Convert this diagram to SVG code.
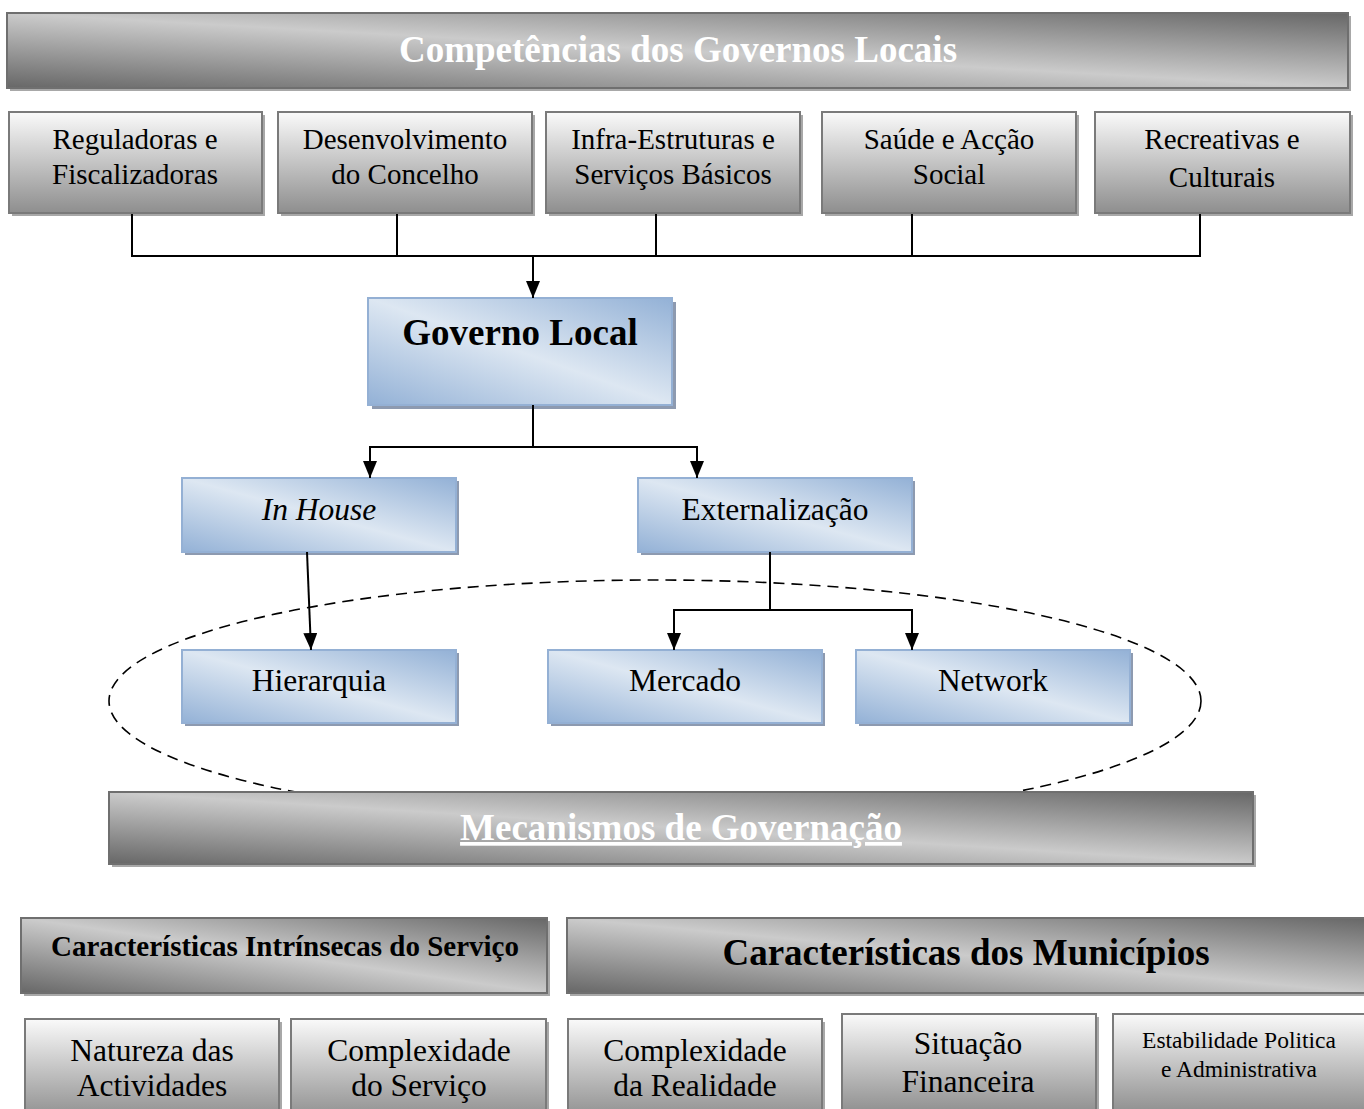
<svg xmlns="http://www.w3.org/2000/svg" width="1364" height="1109" viewBox="0 0 1364 1109">
<defs>
<linearGradient id="banner" x1="0" y1="1" x2="1" y2="0">
<stop offset="0" stop-color="#676767"/>
<stop offset="0.5" stop-color="#cbcbcb"/>
<stop offset="1" stop-color="#676767"/>
</linearGradient>
<linearGradient id="grayBox" x1="0" y1="0" x2="0" y2="1">
<stop offset="0" stop-color="#fafafa"/>
<stop offset="1" stop-color="#8e8e8e"/>
</linearGradient>
<linearGradient id="blueBox" x1="0" y1="1" x2="1" y2="0">
<stop offset="0" stop-color="#93b1d6"/>
<stop offset="0.5" stop-color="#dde7f2"/>
<stop offset="1" stop-color="#93b1d6"/>
</linearGradient>
<marker id="arrow" viewBox="0 0 17 14" refX="17" refY="7" markerWidth="17" markerHeight="14" markerUnits="userSpaceOnUse" orient="auto">
<path d="M0,0 L17,7 L0,14 Z" fill="#000"/>
</marker>
</defs>
<style>
.sh-g{fill:#a8a8a8}
.sh-b{fill:#8d9ab0}
.banner{fill:url(#banner);stroke:#6f6f6f;stroke-width:2}
.gbox{fill:url(#grayBox);stroke:#7a7a7a;stroke-width:2}
.bbox{fill:url(#blueBox);stroke:#94b0d4;stroke-width:2}
text{font-family:"Liberation Serif","Times New Roman",serif;text-anchor:middle;fill:#000}
.t29{font-size:29px}
.t32{font-size:31.5px}
.tb37{font-size:37px;font-weight:bold}
.white{fill:#fff}
.conn{stroke:#000;stroke-width:2;fill:none}
.ell{stroke:#000;stroke-width:1.6;fill:none;stroke-dasharray:11 7}
</style>

<ellipse class="ell" cx="655" cy="701" rx="546" ry="121"/>

<g id="title-competencias">
<rect class="sh-g" x="10" y="16" width="1341" height="75"/>
<rect class="banner" x="7" y="13" width="1341" height="75"/>
<text class="tb37 white" x="678" y="62">Competências dos Governos Locais</text>
</g>

<g id="reguladoras">
<rect class="sh-g" x="12" y="115" width="253" height="101"/>
<rect class="gbox" x="9" y="112" width="253" height="101"/>
<text class="t29" x="135" y="149">Reguladoras e</text>
<text class="t29" x="135" y="184">Fiscalizadoras</text>
</g>
<g id="desenvolvimento">
<rect class="sh-g" x="281" y="115" width="254" height="101"/>
<rect class="gbox" x="278" y="112" width="254" height="101"/>
<text class="t29" x="405" y="149">Desenvolvimento</text>
<text class="t29" x="405" y="184">do Concelho</text>
</g>
<g id="infraestruturas">
<rect class="sh-g" x="549" y="115" width="254" height="101"/>
<rect class="gbox" x="546" y="112" width="254" height="101"/>
<text class="t29" x="673" y="149">Infra-Estruturas e</text>
<text class="t29" x="673" y="184">Serviços Básicos</text>
</g>
<g id="saude">
<rect class="sh-g" x="825" y="115" width="254" height="101"/>
<rect class="gbox" x="822" y="112" width="254" height="101"/>
<text class="t29" x="949" y="149">Saúde e Acção</text>
<text class="t29" x="949" y="184">Social</text>
</g>
<g id="recreativas">
<rect class="sh-g" x="1098" y="115" width="255" height="101"/>
<rect class="gbox" x="1095" y="112" width="255" height="101"/>
<text class="t29" x="1222" y="149">Recreativas e</text>
<text class="t29" x="1222" y="187">Culturais</text>
</g>

<g id="governo-local">
<rect class="sh-b" x="372" y="302" width="304" height="107"/>
<rect class="bbox" x="368" y="298" width="304" height="107"/>
<text class="tb37" x="520" y="345">Governo Local</text>
</g>

<g id="in-house">
<rect class="sh-b" x="185" y="481" width="274" height="74"/>
<rect class="bbox" x="182" y="478" width="274" height="74"/>
<text class="t32" x="319" y="520" font-style="italic">In House</text>
</g>
<g id="externalizacao">
<rect class="sh-b" x="641" y="481" width="274" height="74"/>
<rect class="bbox" x="638" y="478" width="274" height="74"/>
<text class="t32" x="775" y="520">Externalização</text>
</g>

<g id="hierarquia">
<rect class="sh-b" x="185" y="653" width="274" height="73"/>
<rect class="bbox" x="182" y="650" width="274" height="73"/>
<text class="t32" x="319" y="691">Hierarquia</text>
</g>
<g id="mercado">
<rect class="sh-b" x="551" y="653" width="274" height="73"/>
<rect class="bbox" x="548" y="650" width="274" height="73"/>
<text class="t32" x="685" y="691">Mercado</text>
</g>
<g id="network">
<rect class="sh-b" x="859" y="653" width="274" height="73"/>
<rect class="bbox" x="856" y="650" width="274" height="73"/>
<text class="t32" x="993" y="691">Network</text>
</g>

<g id="mecanismos">
<rect class="sh-g" x="112" y="795" width="1144" height="72"/>
<rect class="banner" x="109" y="792" width="1144" height="72"/>
<text class="tb37 white" x="681" y="840" text-decoration="underline">Mecanismos de Governação</text>
</g>

<g id="caracteristicas-servico">
<rect class="sh-g" x="24" y="921" width="526" height="75"/>
<rect class="banner" x="21" y="918" width="526" height="75"/>
<text x="285" y="956" font-size="29" font-weight="bold">Características Intrínsecas do Serviço</text>
</g>
<g id="caracteristicas-municipios">
<rect class="sh-g" x="570" y="921" width="800" height="75"/>
<rect class="banner" x="567" y="918" width="800" height="75"/>
<text class="tb37" x="966" y="965">Características dos Municípios</text>
</g>

<g id="natureza">
<rect class="sh-g" x="28" y="1022" width="254" height="100"/>
<rect class="gbox" x="25" y="1019" width="254" height="100"/>
<text class="t32" x="152" y="1061">Natureza das</text>
<text class="t32" x="152" y="1096">Actividades</text>
</g>
<g id="complexidade-servico">
<rect class="sh-g" x="294" y="1022" width="255" height="100"/>
<rect class="gbox" x="291" y="1019" width="255" height="100"/>
<text class="t32" x="419" y="1061">Complexidade</text>
<text class="t32" x="419" y="1096">do Serviço</text>
</g>
<g id="complexidade-realidade">
<rect class="sh-g" x="571" y="1022" width="254" height="100"/>
<rect class="gbox" x="568" y="1019" width="254" height="100"/>
<text class="t32" x="695" y="1061">Complexidade</text>
<text class="t32" x="695" y="1096">da Realidade</text>
</g>
<g id="situacao-financeira">
<rect class="sh-g" x="845" y="1017" width="254" height="100"/>
<rect class="gbox" x="842" y="1014" width="254" height="100"/>
<text class="t32" x="968" y="1054">Situação</text>
<text class="t32" x="968" y="1092">Financeira</text>
</g>
<g id="estabilidade">
<rect class="sh-g" x="1116" y="1017" width="254" height="100"/>
<rect class="gbox" x="1113" y="1014" width="254" height="100"/>
<text x="1239" y="1048" font-size="23.5">Estabilidade Politica</text>
<text x="1239" y="1077" font-size="23.5">e Administrativa</text>
</g>

<g id="connectors">
<path class="conn" d="M132,214 V256 M397,214 V256 M656,214 V256 M912,214 V256 M1200,214 V256 M131,256 H1201"/>
<path class="conn" d="M533,256 V298" marker-end="url(#arrow)"/>
<path class="conn" d="M533,405 V447 M369,447 H698"/>
<path class="conn" d="M370,447 V478" marker-end="url(#arrow)"/>
<path class="conn" d="M697,447 V478" marker-end="url(#arrow)"/>
<path class="conn" d="M307,552 L311,650" marker-end="url(#arrow)"/>
<path class="conn" d="M770,552 V610 M673,610 H913"/>
<path class="conn" d="M674,610 V650" marker-end="url(#arrow)"/>
<path class="conn" d="M912,610 V650" marker-end="url(#arrow)"/>
</g>
</svg>
